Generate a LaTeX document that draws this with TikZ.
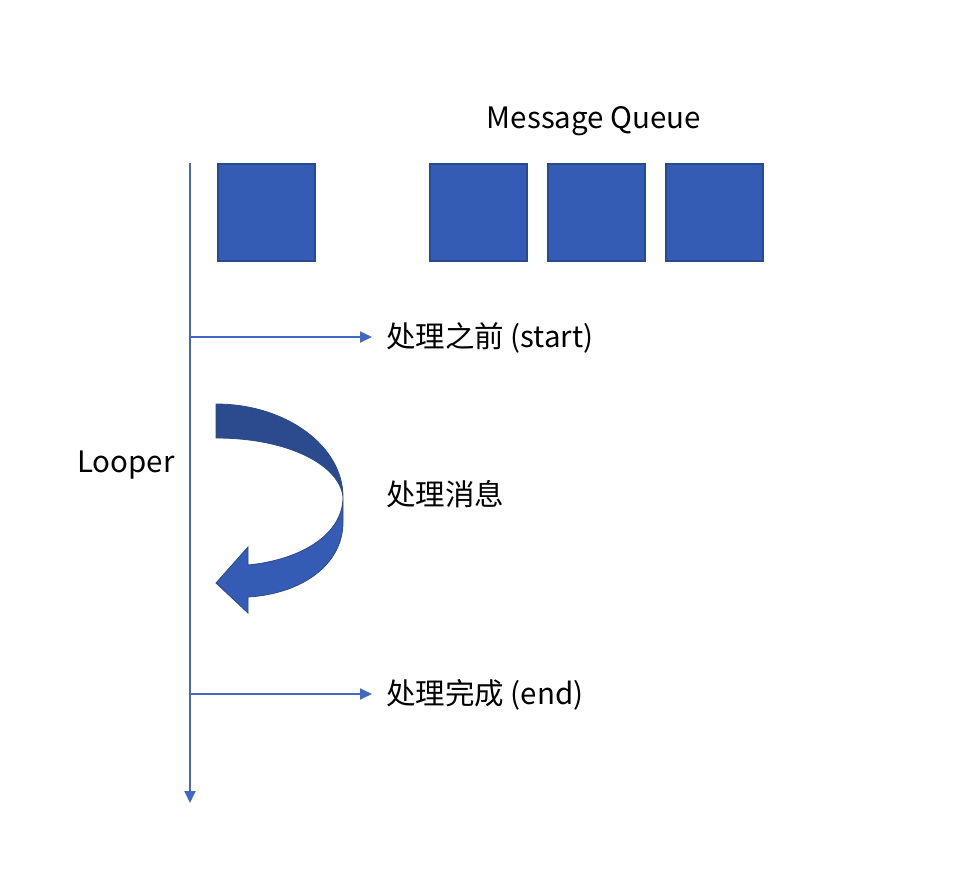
\documentclass[tikz,border=0pt]{standalone}
\usepackage{fontspec}
\setmainfont{Noto Sans CJK SC}
\usetikzlibrary{arrows.meta}
\definecolor{lineblue}{HTML}{4169C4}
\definecolor{boxfill}{HTML}{355CB5}
\definecolor{boxedge}{HTML}{2A4A8A}
\definecolor{darkband}{HTML}{2C4B8E}
\tikzset{
  qbox/.style={draw=boxedge, line width=1.5pt, fill=boxfill, minimum width=97pt, minimum height=97pt, inner sep=0pt, anchor=north west},
  conn/.style={draw=lineblue, line width=1.8pt, -{Triangle[length=12pt,width=11pt]}},
  txt/.style={font=\fontsize{29.5}{34}\selectfont, inner sep=0pt},
  lbl/.style={txt, anchor=west},
}
\begin{document}
\begin{tikzpicture}[x=1pt,y=-1pt]
\useasboundingbox (0,0) rectangle (978,892);
% boxes
\node[qbox] (b1) at (217,163) {};
\node[qbox] (b2) at (429,163) {};
\node[qbox] (b3) at (547,163) {};
\node[qbox] (b4) at (665,163) {};
\node[txt] (mq) at (594,121) {Message Queue};
% looper line
\coordinate (ltop) at (190,163);
\coordinate (lbot) at (190,803);
\draw[conn] (ltop) -- (lbot);
\node[txt] (looper) at (126,465) {Looper};
% start / end
\coordinate (s1) at (190,337);
\coordinate (s1e) at (372,337);
\coordinate (e1) at (190,694);
\coordinate (e1e) at (372,694);
\node[lbl] (start) at (386,338) {处理之前 (start)};
\node[lbl] (proc) at (386,494) {处理消息};
\node[lbl] (endl) at (386,695) {处理完成 (end)};
\draw[conn] (s1) -- (s1e);
\draw[conn] (e1) -- (e1e);
% curved arrow
\fill[darkband, draw=boxedge, line width=0.8pt]
  (216,404) .. controls (286,404) and (343,446) .. (343,497)
  .. controls (340,466) and (290,438) .. (216,438) -- cycle;
\fill[boxfill, draw=boxedge, line width=0.8pt]
  (343,497) -- (343,522) .. controls (343,566) and (300,594) .. (248,597)
  -- (248,613) -- (216,583) -- (248,547) -- (248,565)
  .. controls (300,560) and (343,535) .. (343,497) -- cycle;
\end{tikzpicture}
\end{document}
